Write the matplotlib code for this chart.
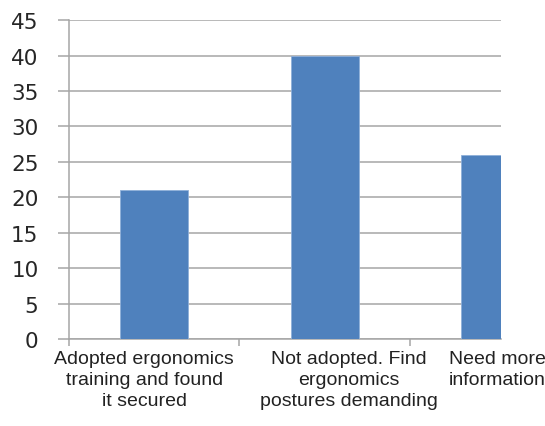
import matplotlib
matplotlib.use("Agg")
import matplotlib.pyplot as plt
import matplotlib.transforms as mtransforms
import numpy as np

categories = ["Adopted ergonomics\ntraining and found\nit secured",
              "Not adopted. Find\nergonomics\npostures demanding",
              "Need more\ninformation"]
values = [21, 40, 26]
yticks = [0, 5, 10, 15, 20, 25, 30, 35, 40, 45]

grid_col = "#a6a6a6"
bar_col = "#4f81bd"

fig = plt.figure(figsize=(5.45, 4.27), dpi=100)
ax = fig.add_axes([0.1266, 0.2037, 0.9193 - 0.1266, 0.9504 - 0.2037])

x = np.arange(len(values))
ax.bar(x, values, width=0.4, color=bar_col, edgecolor="#8fb0d9", linewidth=0.6, zorder=3)

ax.set_xlim(-0.5, 2.034)
ax.set_ylim(0, 45)
ax.set_yticks(yticks)
ax.yaxis.grid(True, color=grid_col, linewidth=1.1, zorder=0)
ax.tick_params(axis="y", length=8, width=1.1, color=grid_col, pad=14,
               labelsize=15.5, labelcolor="#262626")
for lab in ax.get_yticklabels():
    lab.set_fontfamily("DejaVu Sans")

# category labels on major ticks, boundary marks on minor ticks
ax.set_xticks(x)
ax.set_xticklabels(categories, fontfamily="Liberation Sans", fontsize=14,
                   linespacing=1.32, color="#222222")
ax.set_xticks(np.arange(-0.5, 2.5, 1.0), minor=True)
ax.tick_params(axis="x", which="major", length=0, pad=8)
ax.tick_params(axis="x", which="minor", length=5, width=1.1, color=grid_col)

shifts = [-10, 24, 2]
for lab, dx in zip(ax.get_xticklabels(), shifts):
    lab.set_transform(lab.get_transform() +
                      mtransforms.ScaledTranslation(dx / 100, 0, fig.dpi_scale_trans))

for side in ["top", "right"]:
    ax.spines[side].set_visible(False)
for side in ["left", "bottom"]:
    ax.spines[side].set_color(grid_col)
    ax.spines[side].set_linewidth(1.1)

fig.savefig("out.png", dpi=100)
